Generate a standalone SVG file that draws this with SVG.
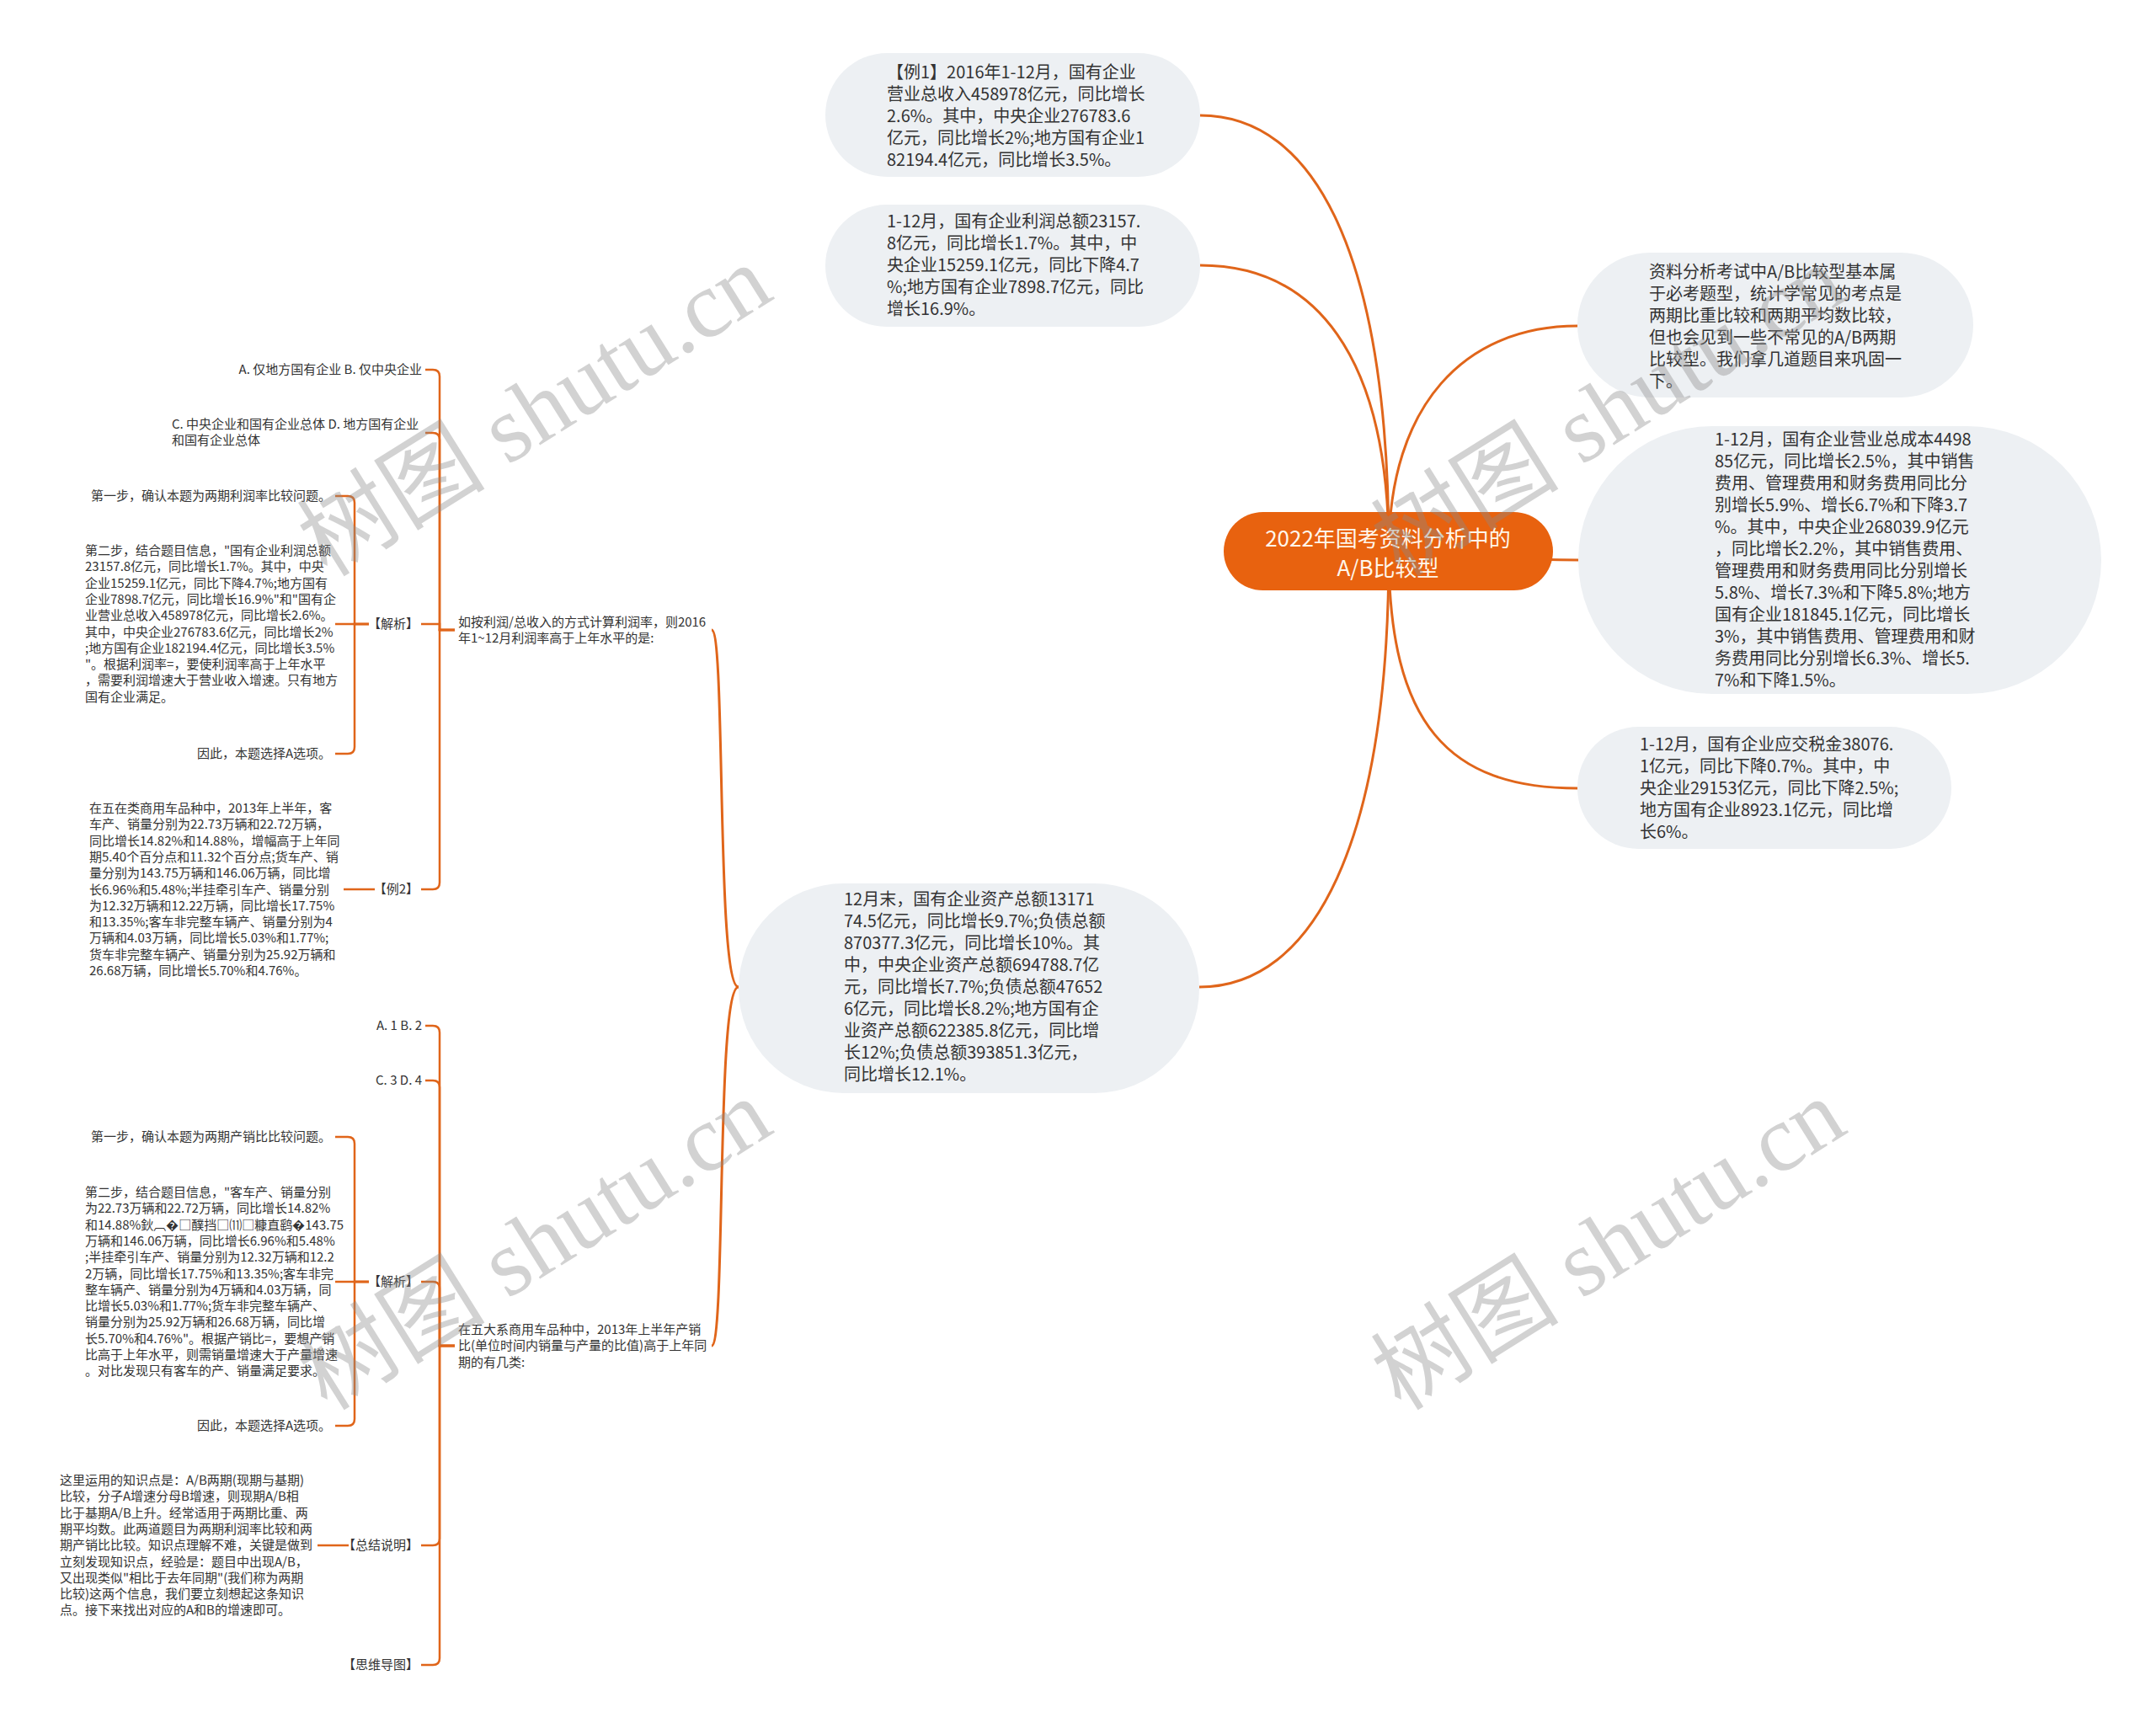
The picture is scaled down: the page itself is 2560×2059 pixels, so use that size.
<svg xmlns="http://www.w3.org/2000/svg" width="2560" height="2059" viewBox="0 0 2560 2059">
<style>
.bg{fill:#ffffff}
.node{fill:#EDF0F3}
.root{fill:#E8620F}
.t{font-family:"Noto Sans CJK SC","Liberation Sans",sans-serif;font-size:20px;fill:#333333}
.rt{font-family:"Noto Sans CJK SC","Liberation Sans",sans-serif;font-size:26px;fill:#FFF6EA;text-anchor:middle}
.s{font-family:"Noto Sans CJK SC","Liberation Sans",sans-serif;font-size:15px;fill:#333333}
.e{text-anchor:end}
.main{fill:none;stroke:#E0651A;stroke-width:3}
.br{fill:none;stroke:#E0651A;stroke-width:2.5}
.wm{font-family:"Liberation Serif","Noto Sans CJK SC",serif;font-size:112px;fill:#8a8a8a;opacity:0.38;text-anchor:middle}
</style>
<rect class="bg" x="0" y="0" width="2560" height="2059"/>
<g id="connectors">
<path class="main" d="M1425,137 C1560,137 1649,300 1649,655"/>
<path class="main" d="M1425,315 C1560,315 1649,420 1649,655"/>
<path class="main" d="M1424,1172 C1560,1172 1649,1000 1649,655"/>
<path class="main" d="M1873,387 C1740,387 1649,480 1649,655"/>
<path class="main" d="M1874,665 C1760,665 1700,655 1649,655"/>
<path class="main" d="M1873,936 C1720,936 1649,860 1649,655"/>
<path class="main" d="M877,1172 C850,1172 862,748 845,748"/>
<path class="main" d="M877,1172 C850,1172 862,1598 845,1598"/>
<path class="br" d="M540,748 H522 V447 Q522,439 514,439 H505"/>
<path class="br" d="M540,748 H522 V522 Q522,514 514,514 H505"/>
<path class="br" d="M540,748 H522 V741 H500"/>
<path class="br" d="M540,748 H522 V1048 Q522,1056 514,1056 H500"/>
<path class="br" d="M438,741 H421 V597 Q421,589 413,589 H398"/>
<path class="br" d="M438,741 H398"/>
<path class="br" d="M438,741 H421 V887 Q421,895 413,895 H398"/>
<path class="br" d="M445,1056 H408"/>
<path class="br" d="M540,1598 H522 V1226 Q522,1218 514,1218 H505"/>
<path class="br" d="M540,1598 H522 V1291 Q522,1283 514,1283 H505"/>
<path class="br" d="M540,1598 H522 V1530 Q522,1522 514,1522 H500"/>
<path class="br" d="M540,1598 H522 V1827 Q522,1835 514,1835 H500"/>
<path class="br" d="M540,1598 H522 V1969 Q522,1977 514,1977 H500"/>
<path class="br" d="M438,1522 H421 V1358 Q421,1350 413,1350 H398"/>
<path class="br" d="M438,1522 H398"/>
<path class="br" d="M438,1522 H421 V1685 Q421,1693 413,1693 H398"/>
<path class="br" d="M414,1835 H377"/>
</g>
<g id="root">
<rect class="root" x="1453" y="608" width="391" height="93" rx="46.5"/>
<text class="rt" x="1648" y="649">2022年国考资料分析中的</text>
<text class="rt" x="1648" y="684">A/B比较型</text>
</g>
<g id="n1">
<rect class="node" x="980" y="63" width="445" height="147" rx="73.5"/>
<text class="t" x="1053" y="93"><tspan x="1053">【例1】2016年1-12月，国有企业</tspan><tspan x="1053" dy="26">营业总收入458978亿元，同比增长</tspan><tspan x="1053" dy="26">2.6%。其中，中央企业276783.6</tspan><tspan x="1053" dy="26">亿元，同比增长2%;地方国有企业1</tspan><tspan x="1053" dy="26">82194.4亿元，同比增长3.5%。</tspan></text>
</g>
<g id="n2">
<rect class="node" x="980" y="243" width="445" height="145" rx="72.5"/>
<text class="t" x="1053" y="270"><tspan x="1053">1-12月，国有企业利润总额23157.</tspan><tspan x="1053" dy="26">8亿元，同比增长1.7%。其中，中</tspan><tspan x="1053" dy="26">央企业15259.1亿元，同比下降4.7</tspan><tspan x="1053" dy="26">%;地方国有企业7898.7亿元，同比</tspan><tspan x="1053" dy="26">增长16.9%。</tspan></text>
</g>
<g id="nA">
<rect class="node" x="1873" y="300" width="470" height="172" rx="86"/>
<text class="t" x="1958" y="330"><tspan x="1958">资料分析考试中A/B比较型基本属</tspan><tspan x="1958" dy="26">于必考题型，统计学常见的考点是</tspan><tspan x="1958" dy="26">两期比重比较和两期平均数比较，</tspan><tspan x="1958" dy="26">但也会见到一些不常见的A/B两期</tspan><tspan x="1958" dy="26">比较型。我们拿几道题目来巩固一</tspan><tspan x="1958" dy="26">下。</tspan></text>
</g>
<g id="nB">
<rect class="node" x="1874" y="506" width="621" height="318" rx="159"/>
<text class="t" x="2036" y="529"><tspan x="2036">1-12月，国有企业营业总成本4498</tspan><tspan x="2036" dy="26">85亿元，同比增长2.5%，其中销售</tspan><tspan x="2036" dy="26">费用、管理费用和财务费用同比分</tspan><tspan x="2036" dy="26">别增长5.9%、增长6.7%和下降3.7</tspan><tspan x="2036" dy="26">%。其中，中央企业268039.9亿元</tspan><tspan x="2036" dy="26">，同比增长2.2%，其中销售费用、</tspan><tspan x="2036" dy="26">管理费用和财务费用同比分别增长</tspan><tspan x="2036" dy="26">5.8%、增长7.3%和下降5.8%;地方</tspan><tspan x="2036" dy="26">国有企业181845.1亿元，同比增长</tspan><tspan x="2036" dy="26">3%，其中销售费用、管理费用和财</tspan><tspan x="2036" dy="26">务费用同比分别增长6.3%、增长5.</tspan><tspan x="2036" dy="26">7%和下降1.5%。</tspan></text>
</g>
<g id="nC">
<rect class="node" x="1873" y="863" width="444" height="145" rx="72.5"/>
<text class="t" x="1947" y="891"><tspan x="1947">1-12月，国有企业应交税金38076.</tspan><tspan x="1947" dy="26">1亿元，同比下降0.7%。其中，中</tspan><tspan x="1947" dy="26">央企业29153亿元，同比下降2.5%;</tspan><tspan x="1947" dy="26">地方国有企业8923.1亿元，同比增</tspan><tspan x="1947" dy="26">长6%。</tspan></text>
</g>
<g id="nD">
<rect class="node" x="877" y="1049" width="547" height="249" rx="124.5"/>
<text class="t" x="1002" y="1075"><tspan x="1002">12月末，国有企业资产总额13171</tspan><tspan x="1002" dy="26">74.5亿元，同比增长9.7%;负债总额</tspan><tspan x="1002" dy="26">870377.3亿元，同比增长10%。其</tspan><tspan x="1002" dy="26">中，中央企业资产总额694788.7亿</tspan><tspan x="1002" dy="26">元，同比增长7.7%;负债总额47652</tspan><tspan x="1002" dy="26">6亿元，同比增长8.2%;地方国有企</tspan><tspan x="1002" dy="26">业资产总额622385.8亿元，同比增</tspan><tspan x="1002" dy="26">长12%;负债总额393851.3亿元，</tspan><tspan x="1002" dy="26">同比增长12.1%。</tspan></text>
</g>
<g id="q1">
<text class="s" x="544" y="744"><tspan x="544">如按利润/总收入的方式计算利润率，则2016</tspan><tspan x="544" dy="19.3">年1~12月利润率高于上年水平的是:</tspan></text>
</g>
<g id="q1-ab"><text class="s e" x="501" y="444">A. 仅地方国有企业 B. 仅中央企业</text></g>
<g id="q1-cd"><text class="s" x="204" y="509"><tspan x="204">C. 中央企业和国有企业总体 D. 地方国有企业</tspan><tspan x="204" dy="19.3">和国有企业总体</tspan></text></g>
<g id="q1-jx"><text class="s e" x="497" y="746">【解析】</text></g>
<g id="q1-s1"><text class="s e" x="393" y="594">第一步，确认本题为两期利润率比较问题。</text></g>
<g id="q1-s2">
<text class="s" x="101" y="659"><tspan x="101">第二步，结合题目信息，"国有企业利润总额</tspan><tspan x="101" dy="19.3">23157.8亿元，同比增长1.7%。其中，中央</tspan><tspan x="101" dy="19.3">企业15259.1亿元，同比下降4.7%;地方国有</tspan><tspan x="101" dy="19.3">企业7898.7亿元，同比增长16.9%"和"国有企</tspan><tspan x="101" dy="19.3">业营业总收入458978亿元，同比增长2.6%。</tspan><tspan x="101" dy="19.3">其中，中央企业276783.6亿元，同比增长2%</tspan><tspan x="101" dy="19.3">;地方国有企业182194.4亿元，同比增长3.5%</tspan><tspan x="101" dy="19.3">"。根据利润率=，要使利润率高于上年水平</tspan><tspan x="101" dy="19.3">，需要利润增速大于营业收入增速。只有地方</tspan><tspan x="101" dy="19.3">国有企业满足。</tspan></text>
</g>
<g id="q1-s3"><text class="s e" x="393" y="900">因此，本题选择A选项。</text></g>
<g id="q1-ex2"><text class="s e" x="497" y="1061">【例2】</text></g>
<g id="q1-ex2t">
<text class="s" x="106" y="965"><tspan x="106">在五在类商用车品种中，2013年上半年，客</tspan><tspan x="106" dy="19.3">车产、销量分别为22.73万辆和22.72万辆，</tspan><tspan x="106" dy="19.3">同比增长14.82%和14.88%，增幅高于上年同</tspan><tspan x="106" dy="19.3">期5.40个百分点和11.32个百分点;货车产、销</tspan><tspan x="106" dy="19.3">量分别为143.75万辆和146.06万辆，同比增</tspan><tspan x="106" dy="19.3">长6.96%和5.48%;半挂牵引车产、销量分别</tspan><tspan x="106" dy="19.3">为12.32万辆和12.22万辆，同比增长17.75%</tspan><tspan x="106" dy="19.3">和13.35%;客车非完整车辆产、销量分别为4</tspan><tspan x="106" dy="19.3">万辆和4.03万辆，同比增长5.03%和1.77%;</tspan><tspan x="106" dy="19.3">货车非完整车辆产、销量分别为25.92万辆和</tspan><tspan x="106" dy="19.3">26.68万辆，同比增长5.70%和4.76%。</tspan></text>
</g>
<g id="q2">
<text class="s" x="544" y="1584"><tspan x="544">在五大系商用车品种中，2013年上半年产销</tspan><tspan x="544" dy="19.3">比(单位时间内销量与产量的比值)高于上年同</tspan><tspan x="544" dy="19.3">期的有几类:</tspan></text>
</g>
<g id="q2-ab"><text class="s e" x="501" y="1223">A. 1 B. 2</text></g>
<g id="q2-cd"><text class="s e" x="501" y="1288">C. 3 D. 4</text></g>
<g id="q2-jx"><text class="s e" x="497" y="1527">【解析】</text></g>
<g id="q2-s1"><text class="s e" x="393" y="1355">第一步，确认本题为两期产销比比较问题。</text></g>
<g id="q2-s2">
<text class="s" x="101" y="1421"><tspan x="101">第二步，结合题目信息，"客车产、销量分别</tspan><tspan x="101" dy="19.3">为22.73万辆和22.72万辆，同比增长14.82%</tspan><tspan x="101" dy="19.3">和14.88%鈥︹�□醭挡□⑾□糠直鹞�143.75</tspan><tspan x="101" dy="19.3">万辆和146.06万辆，同比增长6.96%和5.48%</tspan><tspan x="101" dy="19.3">;半挂牵引车产、销量分别为12.32万辆和12.2</tspan><tspan x="101" dy="19.3">2万辆，同比增长17.75%和13.35%;客车非完</tspan><tspan x="101" dy="19.3">整车辆产、销量分别为4万辆和4.03万辆，同</tspan><tspan x="101" dy="19.3">比增长5.03%和1.77%;货车非完整车辆产、</tspan><tspan x="101" dy="19.3">销量分别为25.92万辆和26.68万辆，同比增</tspan><tspan x="101" dy="19.3">长5.70%和4.76%"。根据产销比=，要想产销</tspan><tspan x="101" dy="19.3">比高于上年水平，则需销量增速大于产量增速</tspan><tspan x="101" dy="19.3">。对比发现只有客车的产、销量满足要求。</tspan></text>
</g>
<g id="q2-s3"><text class="s e" x="393" y="1698">因此，本题选择A选项。</text></g>
<g id="q2-sum"><text class="s e" x="497" y="1840">【总结说明】</text></g>
<g id="q2-sumt">
<text class="s" x="71" y="1763"><tspan x="71">这里运用的知识点是：A/B两期(现期与基期)</tspan><tspan x="71" dy="19.3">比较，分子A增速分母B增速，则现期A/B相</tspan><tspan x="71" dy="19.3">比于基期A/B上升。经常适用于两期比重、两</tspan><tspan x="71" dy="19.3">期平均数。此两道题目为两期利润率比较和两</tspan><tspan x="71" dy="19.3">期产销比比较。知识点理解不难，关键是做到</tspan><tspan x="71" dy="19.3">立刻发现知识点，经验是：题目中出现A/B，</tspan><tspan x="71" dy="19.3">又出现类似"相比于去年同期"(我们称为两期</tspan><tspan x="71" dy="19.3">比较)这两个信息，我们要立刻想起这条知识</tspan><tspan x="71" dy="19.3">点。接下来找出对应的A和B的增速即可。</tspan></text>
</g>
<g id="q2-map"><text class="s e" x="497" y="1982">【思维导图】</text></g>
<g id="watermark">
<text class="wm" transform="translate(655,520) rotate(-32)">树图 shutu.cn</text>
<text class="wm" transform="translate(655,1510) rotate(-32)">树图 shutu.cn</text>
<text class="wm" transform="translate(1930,1510) rotate(-32)">树图 shutu.cn</text>
<text class="wm" transform="translate(1930,520) rotate(-32)">树图 shutu.cn</text>
</g>
</svg>
